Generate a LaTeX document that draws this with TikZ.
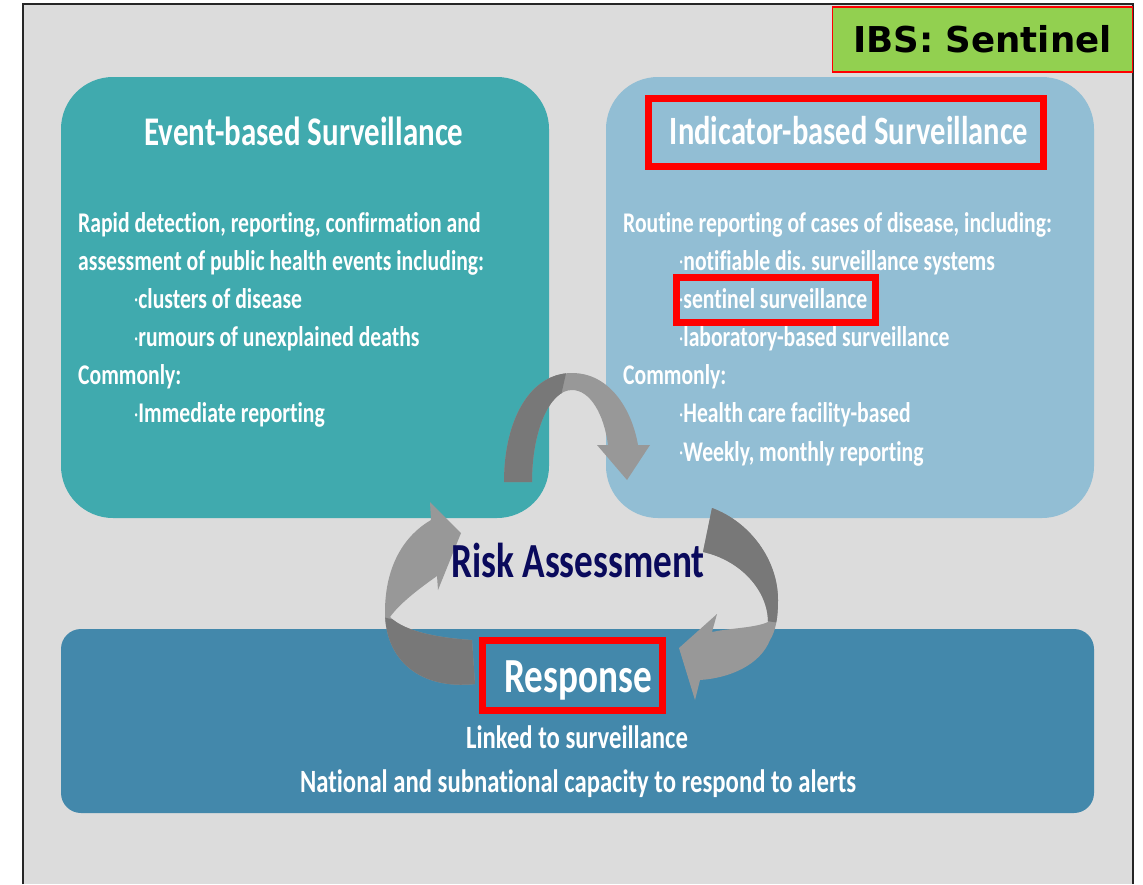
\documentclass[tikz,border=0pt]{standalone}
\usepackage{fontspec}
\newfontfamily\calb{Carlito}[FakeStretch=0.76, Ligatures={NoCommon}]
\newfontfamily\dvs{DejaVu Sans}
\newcommand\listdot{{\mdseries\fontsize{22}{22}\selectfont\raisebox{1.5pt}{·}}}
\definecolor{slidebg}{HTML}{DCDCDC}
\definecolor{ebsfill}{HTML}{40AAAE}
\definecolor{ibsfill}{HTML}{92BED4}
\definecolor{respfill}{HTML}{4388AB}
\definecolor{arrlight}{HTML}{989898}
\definecolor{arrdark}{HTML}{787878}
\definecolor{navytext}{HTML}{0A0A5C}
\definecolor{taggreen}{HTML}{92D050}
\definecolor{hlred}{HTML}{FF0000}

% curved ribbon arrows (pixel coordinates, y downwards)
\def\ribbonTop{(504,482) .. controls (504,420) and (530,373) .. (572,373)
  .. controls (610,373) and (632,410) .. (638,445) -- (650,445) -- (627,480)
  -- (597,445) -- (608,445) .. controls (604,414) and (590,390) .. (572,390)
  .. controls (550,390) and (532,430) .. (532,482) -- cycle}
\def\ribbonRight{(712,508) .. controls (750,522) and (778,560) .. (778,600)
  .. controls (778,620) and (775,632) .. (770,640)
  .. controls (760,665) and (730,678) .. (700,680) -- (695,700) -- (679,648)
  -- (717,614) -- (712,632) .. controls (730,628) and (755,628) .. (768,622)
  .. controls (768,590) and (740,560) .. (703,552) -- cycle}
\def\ribbonLeft{(472,640) -- (475,684) .. controls (420,690) and (385,660) .. (385,612)
  .. controls (385,565) and (405,535) .. (431,520) -- (430,502) -- (461,533)
  -- (438,590) -- (437,576) .. controls (420,588) and (400,603) .. (390,617)
  .. controls (405,632) and (440,638) .. (472,640) -- cycle}

\begin{document}
\begin{tikzpicture}[x=1pt,y=-1pt,
  panel/.style={draw=none, inner sep=0pt, rectangle},
  bodytxt/.style={text=white, inner sep=0pt, anchor=base west,
    font=\calb\bfseries\fontsize{28.5}{30}\selectfont},
  titletxt/.style={text=white, inner sep=0pt, anchor=base,
    font=\calb\bfseries\fontsize{40.7}{43}\selectfont},
  resptxt/.style={text=white, inner sep=0pt, anchor=base,
    font=\calb\bfseries\fontsize{32.5}{34}\selectfont},
  hlbox/.style={draw=hlred, line width=7pt, inner sep=0pt, rectangle},
]
\useasboundingbox (0,0) rectangle (1143,884);
\fill[white] (0,0) rectangle (1143,884);
\fill[slidebg] (23,4) rectangle (1133,884);
\draw[line width=1.5pt, black!85] (23,884) -- (23,4) -- (1133,4) -- (1133,884);

% the three surveillance / response panels
\node[panel, fill=ebsfill, rounded corners=52pt, minimum width=488pt, minimum height=441pt]
  (ebs) at (305,297.5) {};
\node[panel, fill=ibsfill, rounded corners=52pt, minimum width=488pt, minimum height=441pt]
  (ibs) at (850,297.5) {};
\node[panel, fill=respfill, rounded corners=20pt, minimum width=1033pt, minimum height=184pt]
  (resp) at (577.5,721) {};

% risk-assessment cycle arrows
\fill[arrlight] \ribbonTop;
\begin{scope}
  \clip \ribbonTop;
  \fill[arrdark] (480,360) -- (569,360) -- (560,400) -- (565,500) -- (480,500) -- cycle;
\end{scope}
\fill[arrlight] \ribbonRight;
\begin{scope}
  \clip \ribbonRight;
  \fill[arrdark] (690,490) -- (800,490) -- (800,626) -- (760,620) -- (745,590) -- (690,560) -- cycle;
\end{scope}
\fill[arrlight] \ribbonLeft;
\begin{scope}
  \clip \ribbonLeft;
  \fill[arrdark] (370,614) -- (395,620) -- (480,620) -- (480,700) -- (370,700) -- cycle;
\end{scope}

% panel titles
\node[titletxt] (ebsT) at (304,145) {Event-based Surveillance};
\node[titletxt, font=\calb\bfseries\fontsize{40.2}{43}\selectfont] (ibsT) at (849,144) {Indicator-based Surveillance};

% event-based text
\node[bodytxt] (e1) at (78,232)   {Rapid detection, reporting, confirmation and};
\node[bodytxt] (e2) at (78,270.2) {assessment of public health events including:};
\node[bodytxt] (e3) at (134,308.3) {\listdot clusters of disease};
\node[bodytxt] (e4) at (134,346.5) {\listdot rumours of unexplained deaths};
\node[bodytxt] (e5) at (78,384.6) {Commonly:};
\node[bodytxt] (e6) at (134,422.8) {\listdot Immediate reporting};

% indicator-based text
\node[bodytxt] (i1) at (623,232)   {Routine reporting of cases of disease, including:};
\node[bodytxt] (i2) at (679,270.2) {\listdot notifiable dis.\ surveillance systems};
\node[bodytxt] (i3) at (679,308.3) {\listdot sentinel surveillance};
\node[bodytxt] (i4) at (679,346.5) {\listdot laboratory-based surveillance};
\node[bodytxt] (i5) at (623,384.6) {Commonly:};
\node[bodytxt] (i6) at (679,422.8) {\listdot Health care facility-based};
\node[bodytxt] (i7) at (679,461)   {\listdot Weekly, monthly reporting};

% centre and response texts
\node[inner sep=0pt, anchor=base, text=navytext,
  font=\calb\bfseries\fontsize{49}{51}\selectfont] (risk) at (578,577) {Risk Assessment};
\node[inner sep=0pt, anchor=base, text=white,
  font=\calb\bfseries\fontsize{49}{51}\selectfont] (respT) at (578,692) {Response};
\node[resptxt] (rb1) at (577,748) {Linked to surveillance};
\node[resptxt] (rb2) at (578,792) {National and subnational capacity to respond to alerts};

% highlight frames
\node[hlbox, minimum width=395pt, minimum height=68pt] (hlI) at (846,132.5) {};
\node[hlbox, minimum width=199pt, minimum height=45pt] (hlS) at (776,300) {};
\node[hlbox, minimum width=180pt, minimum height=70pt] (hlR) at (572.5,675.5) {};

% corner tag
\node[rectangle, fill=taggreen, draw=hlred, line width=1.2pt, inner sep=0pt,
  minimum width=300pt, minimum height=65pt, text=black,
  font=\dvs\bfseries\fontsize{35.6}{38}\selectfont] (tag) at (982.5,39.5) {IBS: Sentinel};
\end{tikzpicture}
\end{document}
